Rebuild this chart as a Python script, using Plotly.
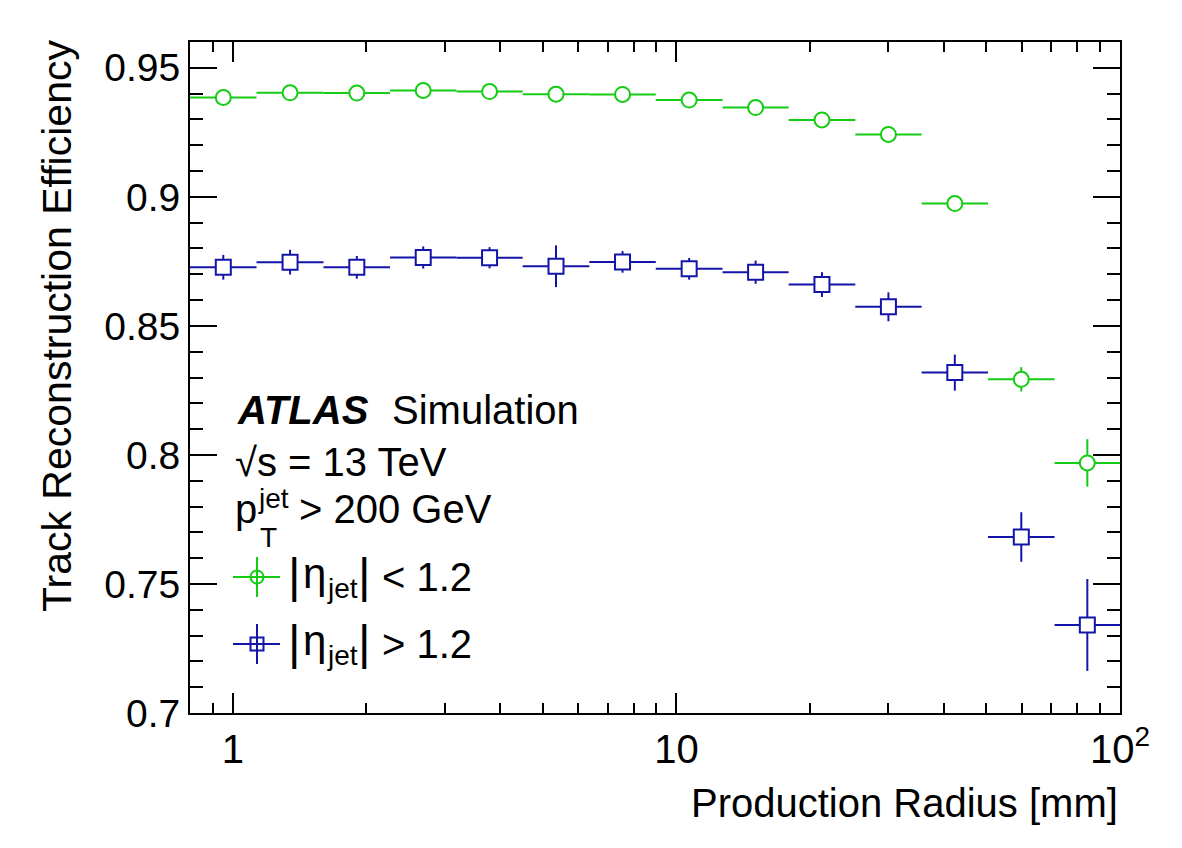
import math
import plotly.graph_objects as go

# ---- data ----
bin_edges = [0.8, 1.13, 1.6, 2.26, 3.19, 4.5, 6.36, 8.98, 12.7, 17.9, 25.3, 35.7, 50.4, 71.2, 100.0]
radius = [0.951, 1.345, 1.902, 2.685, 3.789, 5.35, 7.557, 10.68, 15.08, 21.28, 30.05, 42.42, 59.9, 84.4]

eff_central = [0.9385, 0.9403, 0.9402, 0.9412, 0.9408, 0.9398, 0.9397, 0.9375, 0.9346, 0.9298,
               0.9242, 0.8974, 0.8293, 0.7969]
err_central = [0.001, 0.001, 0.001, 0.001, 0.001, 0.001, 0.001, 0.001, 0.001, 0.0012,
               0.0015, 0.002, 0.0047, 0.0092]
eff_forward = [0.8727, 0.8747, 0.8727, 0.8765, 0.8764, 0.8731, 0.8748, 0.8721, 0.8708, 0.8660,
               0.8574, 0.8319, 0.7682, 0.7341]
err_forward = [0.0048, 0.0048, 0.0044, 0.0043, 0.0041, 0.0081, 0.0042, 0.0042, 0.0045, 0.0048,
               0.0056, 0.0070, 0.0096, 0.0178]

x_major_ticks = [1, 10, 100]
x_major_text = ["1", "10", "10<sup>2</sup>"]
x_minor_ticks = [0.8, 0.9, 2, 3, 4, 5, 6, 7, 8, 9, 20, 30, 40, 50, 60, 70, 80, 90]
y_ticks = [0.7, 0.75, 0.8, 0.85, 0.9, 0.95]
y_text = ["0.7", "0.75", "0.8", "0.85", "0.9", "0.95"]

GREEN = "#14cc14"
BLUE = "#1414a8"
FONT = "Liberation Sans, Arial, Helvetica, sans-serif"

W, H = 1182, 848
ML, MR, MT, MB = 190, 62, 42, 135
PW, PH = W - ML - MR, H - MT - MB


def px(x):
    return (x - ML) / PW


def py(y):
    return (H - MB - y) / PH


xerr_lo = [c - bin_edges[i] for i, c in enumerate(radius)]
xerr_hi = [bin_edges[i + 1] - c for i, c in enumerate(radius)]

fig = go.Figure()
for vals, errs, col, sym in [(eff_central, err_central, GREEN, "circle"),
                             (eff_forward, err_forward, BLUE, "square")]:
    fig.add_trace(go.Scatter(
        x=radius, y=vals, mode="markers",
        marker=dict(symbol=sym, size=15, color="white", line=dict(color=col, width=2)),
        error_x=dict(type="data", symmetric=False, array=xerr_hi, arrayminus=xerr_lo,
                     color=col, thickness=2, width=0),
        error_y=dict(type="data", array=errs, color=col, thickness=2, width=0),
        showlegend=False, cliponaxis=False,
    ))

fig.update_layout(
    width=W, height=H,
    margin=dict(l=ML, r=MR, t=MT, b=MB, pad=0),
    paper_bgcolor="white", plot_bgcolor="white",
    font=dict(family=FONT, color="black", size=40),
    showlegend=False,
    xaxis=dict(
        type="log", range=[math.log10(0.8), 2.0],
        tickmode="array", tickvals=x_major_ticks, ticktext=x_major_text,
        ticks="inside", ticklen=20, tickwidth=2, tickcolor="black",
        showline=True, linecolor="black", linewidth=2, mirror="ticks",
        showgrid=False, zeroline=False,
        tickfont=dict(size=40, family=FONT),
        ticklabelstandoff=0,
        minor=dict(tickmode="array", tickvals=x_minor_ticks, ticks="inside", ticklen=10,
                   tickwidth=2, tickcolor="black", showgrid=False),
    ),
    yaxis=dict(
        range=[0.7, 0.96],
        tickmode="array", tickvals=y_ticks, ticktext=y_text,
        ticks="inside", ticklen=27, tickwidth=2, tickcolor="black",
        showline=True, linecolor="black", linewidth=2, mirror="ticks",
        showgrid=False, zeroline=False,
        tickfont=dict(size=39, family=FONT),
        minor=dict(dtick=0.01, tick0=0.7, ticks="inside", ticklen=13,
                   tickwidth=2, tickcolor="black", showgrid=False),
    ),
)

ann = []


def text(x, y, s, size=40, xanchor="left", yanchor="middle", angle=0):
    ann.append(dict(xref="paper", yref="paper", x=px(x), y=py(y), text=s, showarrow=False,
                    xanchor=xanchor, yanchor=yanchor, textangle=angle,
                    font=dict(size=size, family=FONT, color="black")))


# axis titles
text(1120, 803, "Production Radius [mm]", xanchor="right")
text(57, 38, "Track Reconstruction Efficiency", size=41, xanchor="center", yanchor="top", angle=-90)

# labels
text(235, 410, "<b><i>ATLAS</i></b>")
text(390, 410, "Simulation")
text(233, 462, "√s = 13 TeV")
text(233, 509, "p")
text(256, 498, "jet", size=28)
text(258, 537, "T", size=28)
text(297, 509, "> 200 GeV")

leg_y = [577, 644]
for ly, lab in zip(leg_y, ["< 1.2", "> 1.2"]):
    text(286, ly - 2, "<span style='font-size:48px'>|</span>")
    text(301, ly - 4, "<span style='font-size:42px'>η</span>")
    text(325, ly + 11, "jet", size=28)
    text(356, ly - 2, "<span style='font-size:48px'>|</span>")
    text(380, ly, lab)

fig.update_layout(annotations=ann)

# legend symbols (decoration)
shapes = []
for ly, col, kind in [(577, GREEN, "circle"), (644, BLUE, "rect")]:
    shapes.append(dict(type="line", xref="paper", yref="paper", x0=px(233), x1=px(280),
                       y0=py(ly), y1=py(ly), line=dict(color=col, width=2)))
    shapes.append(dict(type="line", xref="paper", yref="paper", x0=px(257), x1=px(257),
                       y0=py(ly - 20), y1=py(ly + 20), line=dict(color=col, width=2)))
    shapes.append(dict(type=kind, xref="paper", yref="paper", x0=px(250.5), x1=px(263.5),
                       y0=py(ly - 6.5), y1=py(ly + 6.5), line=dict(color=col, width=2)))
fig.update_layout(shapes=shapes)

fig.write_html("out.html")
